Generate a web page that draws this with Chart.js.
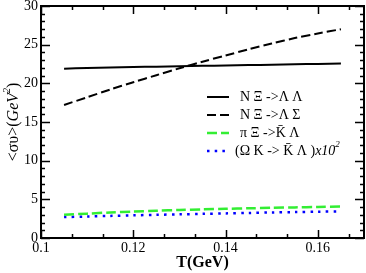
<!DOCTYPE html>
<html>
<head>
<meta charset="utf-8">
<script src="https://cdn.jsdelivr.net/npm/chart.js@4"></script>
<style>
  html, body { margin: 0; padding: 0; background: #fff; }
  #wrap { width: 366px; height: 273px; }
</style>
</head>
<body>
<div id="wrap"><canvas id="myChart" width="366" height="273"></canvas></div>
<script>
// data
const temps = [0.105, 0.11, 0.115, 0.12, 0.125, 0.13, 0.135, 0.14, 0.145, 0.15, 0.155, 0.16, 0.165];
const nXiLL = [21.9, 21.97, 22.04, 22.1, 22.16, 22.21, 22.26, 22.31, 22.36, 22.41, 22.46, 22.51, 22.56];
const nXiLS = [17.2, 18.2, 19.2, 20.15, 21.05, 21.95, 22.8, 23.6, 24.4, 25.15, 25.85, 26.45, 27.0];
const piXiKL = [3.0, 3.15, 3.3, 3.42, 3.53, 3.62, 3.7, 3.77, 3.84, 3.9, 3.96, 4.01, 4.06];
const omKKL = [2.7, 2.78, 2.86, 2.93, 3.0, 3.06, 3.12, 3.18, 3.24, 3.3, 3.35, 3.4, 3.45];

const xTicks = [0.1, 0.12, 0.14, 0.16];
const yTicks = [0, 5, 10, 15, 20, 25, 30];

const serif = "'Liberation Serif', 'Times New Roman', serif";

function pts(ys) {
    return temps.map((t, i) => ({ x: t, y: ys[i] }));
}

// draws a run of text pieces (normal / italic / superscript), returns width
function drawParts(ctx, parts, x, y, size, dry) {
    let tx = x;
    parts.forEach(p => {
        const s = p.sup ? Math.round(size * 0.65) : size;
        ctx.font = (p.i ? 'italic ' : '') + s + 'px ' + serif;
        if (!dry) ctx.fillText(p.t, tx, p.sup ? y - size * 0.42 : y);
        tx += ctx.measureText(p.t).width;
    });
    return tx - x;
}

// inward ticks on all four sides + frame
const frameTicks = {
    id: 'frameTicks',
    afterDraw(chart) {
        const ctx = chart.ctx;
        const a = chart.chartArea;
        const xs = chart.scales.x, ys = chart.scales.y;
        ctx.save();
        ctx.strokeStyle = '#000';
        ctx.lineWidth = 1.5;
        // x ticks: major every 0.02, two minors between
        for (let i = 0; i <= 21; i++) {
            const v = 0.1 + i * 0.02 / 3;
            if (v > 0.1701) break;
            const px = Math.round(xs.getPixelForValue(v)) + 0.5;
            const len = (i % 3 === 0) ? 8 : 4;
            ctx.beginPath();
            ctx.moveTo(px, a.bottom); ctx.lineTo(px, a.bottom - len);
            ctx.moveTo(px, a.top); ctx.lineTo(px, a.top + len);
            ctx.stroke();
        }
        // y ticks: major every 5, minor every 1
        for (let v = 0; v <= 30; v++) {
            const py = Math.round(ys.getPixelForValue(v)) + 0.5;
            const len = (v % 5 === 0) ? 9 : 4;
            ctx.beginPath();
            ctx.moveTo(a.left, py); ctx.lineTo(a.left + len, py);
            ctx.moveTo(a.right, py); ctx.lineTo(a.right - len, py);
            ctx.stroke();
        }
        ctx.lineWidth = 2;
        ctx.strokeRect(a.left, a.top, a.right - a.left, a.bottom - a.top);

        // y axis title, rotated, with italic GeV and superscript 2
        const yTitle = [{ t: '<\u03C3\u03C5>(' }, { t: 'GeV', i: true }, { t: '2', i: true, sup: true }, { t: ')' }];
        ctx.fillStyle = '#000';
        ctx.textBaseline = 'middle';
        ctx.translate(14, (a.top + a.bottom) / 2);
        ctx.rotate(-Math.PI / 2);
        const w = drawParts(ctx, yTitle, 0, 0, 16, true);
        drawParts(ctx, yTitle, -w / 2, 0, 16, false);
        ctx.restore();
    }
};

// legend drawn inside the plot
const innerLegend = {
    id: 'innerLegend',
    afterDraw(chart) {
        const ctx = chart.ctx;
        const a = chart.chartArea;
        const x0 = a.left + 166, y0 = a.top + 91;
        ctx.save();
        ctx.textBaseline = 'middle';
        chart.data.datasets.forEach((ds, i) => {
            const y = y0 + i * 18;
            ctx.strokeStyle = ds.borderColor;
            ctx.lineWidth = ds.borderWidth;
            ctx.setLineDash(ds.borderDash || []);
            ctx.beginPath();
            ctx.moveTo(x0, y); ctx.lineTo(x0 + 22, y);
            ctx.stroke();
            ctx.setLineDash([]);
            ctx.fillStyle = '#000';
            const parts = ds.labelParts || [{ t: ds.label }];
            drawParts(ctx, parts, x0 + (ds.labelParts ? 28 : 33), y, 14, false);
        });
        ctx.restore();
    }
};

new Chart(document.getElementById('myChart'), {
    type: 'line',
    data: {
        datasets: [{
                label: 'N \u039E ->\u039B \u039B',
                data: pts(nXiLL),
                borderColor: '#000000',
                borderWidth: 2
            },
            {
                label: 'N \u039E ->\u039B \u03A3',
                data: pts(nXiLS),
                borderColor: '#000000',
                borderWidth: 2,
                borderDash: [9, 4]
            },
            {
                label: '\u03C0 \u039E ->K\u0304 \u039B',
                data: pts(piXiKL),
                borderColor: '#33ee33',
                borderWidth: 2.5,
                borderDash: [10, 4]
            },
            {
                label: '(\u03A9 K -> K\u0304 \u039B )x10\u00B2',
                labelParts: [{ t: '(\u03A9 K -> K\u0304 \u039B )' }, { t: 'x10', i: true }, { t: '2', i: true, sup: true }],
                data: pts(omKKL),
                borderColor: '#0000ff',
                borderWidth: 2.5,
                borderDash: [2.5, 5.2]
            }
        ]
    },
    options: {
        responsive: false,
        animation: false,
        devicePixelRatio: 1,
        elements: { point: { radius: 0 }, line: { tension: 0.3 } },
        layout: { padding: { top: 6, right: 2, left: 0, bottom: 0 } },
        plugins: {
            legend: { display: false },
            tooltip: { enabled: false }
        },
        scales: {
            x: {
                type: 'linear',
                min: 0.1,
                max: 0.17,
                afterBuildTicks: s => { s.ticks = xTicks.map(v => ({ value: v })); },
                afterFit: s => { s.height = 35; s.paddingLeft = 0; s.paddingRight = 0; },
                grid: { display: false, drawTicks: false },
                border: { display: false },
                ticks: {
                    color: '#000',
                    padding: 2,
                    maxRotation: 0,
                    font: { family: serif, size: 14 },
                    callback: v => String(Number(v.toFixed(2)))
                },
                title: {
                    display: true,
                    text: 'T(GeV)',
                    color: '#000',
                    padding: { top: 0, bottom: 1 },
                    font: { family: serif, size: 16, weight: 'bold' }
                }
            },
            y: {
                min: 0,
                max: 30,
                afterBuildTicks: s => { s.ticks = yTicks.map(v => ({ value: v })); },
                afterFit: s => { s.width = 41; s.paddingTop = 0; s.paddingBottom = 0; },
                grid: { display: false, drawTicks: false },
                border: { display: false },
                ticks: {
                    color: '#000',
                    padding: 3,
                    font: { family: serif, size: 14 }
                }
            }
        }
    },
    plugins: [frameTicks, innerLegend]
});
</script>
</body>
</html>
